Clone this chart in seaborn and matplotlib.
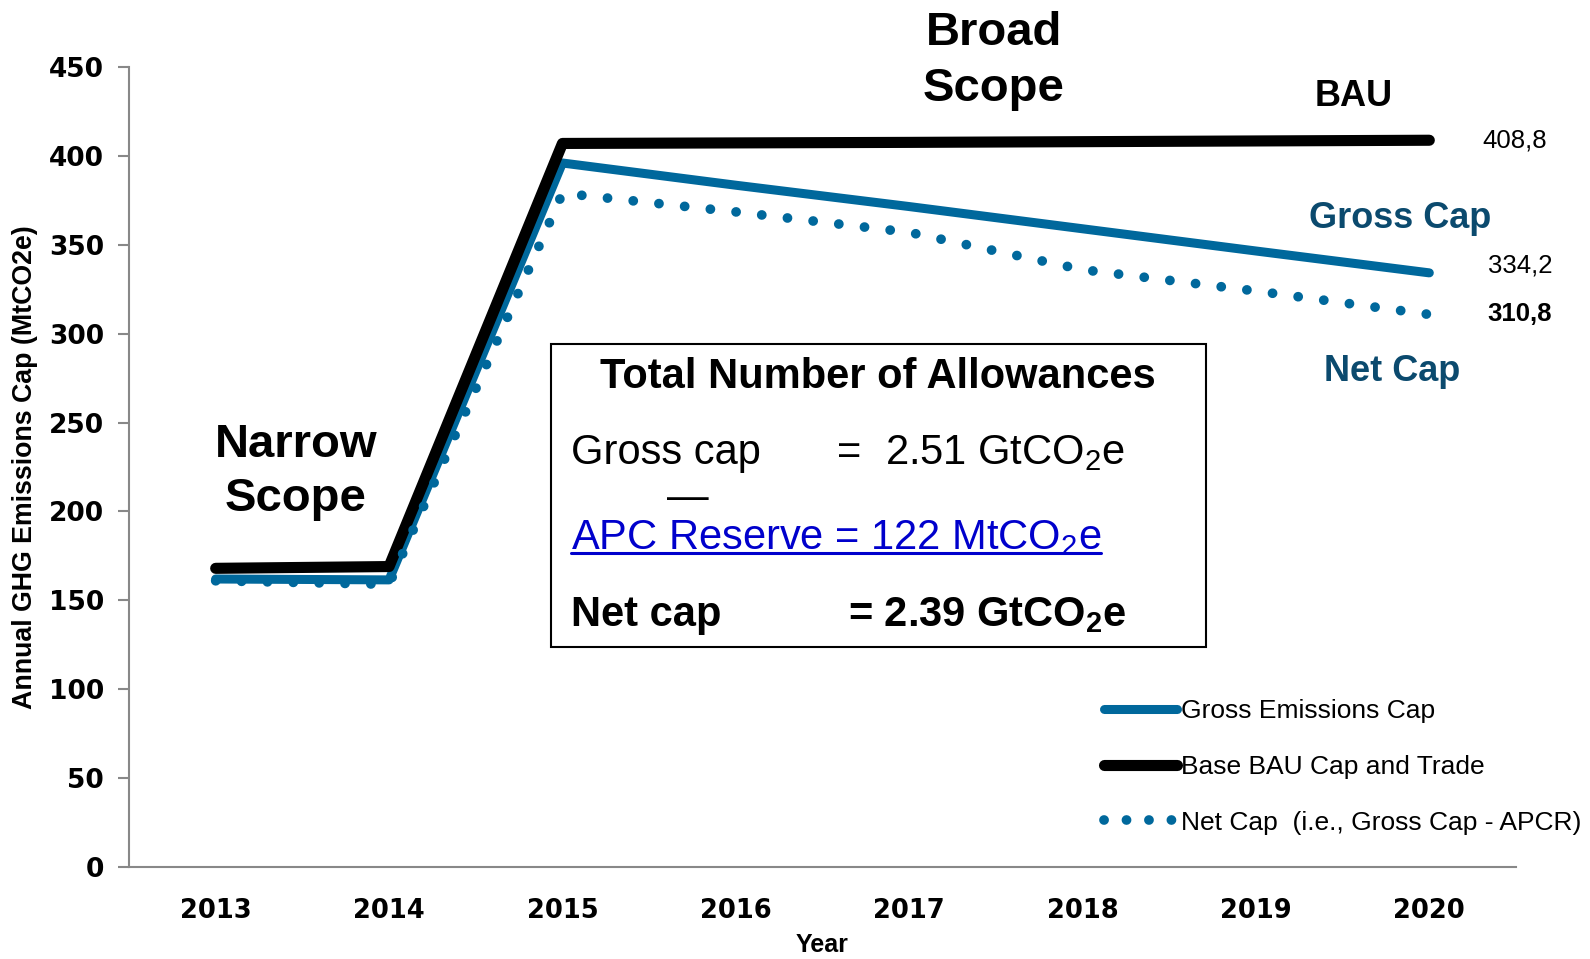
import matplotlib
matplotlib.use("Agg")
import matplotlib.pyplot as plt
import seaborn as sns
import pandas as pd
from matplotlib.patches import Rectangle
from matplotlib.lines import Line2D

# ---------------- data ----------------
years = ['2013', '2014', '2015', '2016', '2017', '2018', '2019', '2020']
bau_cap = [168.0, 169.0, 407.0, 407.3, 407.6, 408.0, 408.4, 408.8]
gross_cap = [162.0, 161.5, 396.0, 383.5, 371.5, 359.0, 346.5, 334.2]
net_cap = [161.0, 159.0, 379.0, 368.5, 357.0, 336.0, 324.0, 310.8]
series_labels = ['Gross Emissions Cap', 'Base BAU Cap and Trade', 'Net Cap  (i.e., Gross Cap - APCR)']
y_ticks = [0, 50, 100, 150, 200, 250, 300, 350, 400, 450]

# ---------------- style ----------------
sns.set_style("white")
plt.rcParams['font.family'] = ['Liberation Sans', 'DejaVu Sans']
plt.rcParams['mathtext.fontset'] = 'custom'
plt.rcParams['mathtext.rm'] = 'Liberation Sans'
plt.rcParams['mathtext.bf'] = 'Liberation Sans:bold'
plt.rcParams['mathtext.it'] = 'Liberation Sans:italic'
for k in ['text.color', 'axes.labelcolor', 'xtick.color', 'ytick.color']:
    plt.rcParams[k] = 'black'

BLUE = '#00689C'
NAVY = '#0B4A6E'
W, H = 1590, 959

df = pd.DataFrame({'Year': years, 'BAU': bau_cap, 'Gross': gross_cap, 'Net': net_cap})

fig = plt.figure(figsize=(W / 100, H / 100), dpi=100)
ax = fig.add_axes([129 / W, 1 - 867 / H, (1516 - 129) / W, (867 - 67) / H])

sns.lineplot(data=df, x='Year', y='Gross', ax=ax, color=BLUE, linewidth=6.5,
             solid_capstyle='round', solid_joinstyle='round', label=series_labels[0], sort=False)
sns.lineplot(data=df, x='Year', y='BAU', ax=ax, color='black', linewidth=8,
             solid_capstyle='round', solid_joinstyle='round', label=series_labels[1], sort=False)
sns.lineplot(data=df, x='Year', y='Net', ax=ax, color=BLUE, linewidth=7,
             linestyle=(0, (0.01, 2.65)), dash_capstyle='round', label=series_labels[2], sort=False)

ax.set_xlim(-0.5, len(years) - 0.5)
ax.set_ylim(0, 450)
ax.set_yticks(y_ticks)
ax.set_yticklabels([str(v) for v in y_ticks], fontfamily='DejaVu Sans', fontweight='bold', fontsize=19)
ax.set_xticks(range(len(years)))
ax.set_xticklabels(years, fontfamily='DejaVu Sans', fontweight='bold', fontsize=18.5)
ax.tick_params(axis='y', length=8, width=1.5, color='#888888', pad=10, direction='out', left=True,
               labelcolor='black')
ax.tick_params(axis='x', length=0, pad=22, labelcolor='black')

for s in ['top', 'right']:
    ax.spines[s].set_visible(False)
for s in ['left', 'bottom']:
    ax.spines[s].set_color('#888888')
    ax.spines[s].set_linewidth(1.5)

ax.set_ylabel('Annual GHG Emissions Cap (MtCO2e)', fontsize=19.3, fontweight='bold', color='black')
ax.yaxis.set_label_coords((38 - 129) / (1516 - 129), 0.5)
ax.set_xlabel('Year', fontsize=18, fontweight='bold', color='black')
ax.xaxis.set_label_coords(0.5, -(933 - 867) / (867 - 67))

# legend (own handles so the dotted key shows four dots like the original)
handles, labels = ax.get_legend_handles_labels()
leg_handles = [
    Line2D([], [], color=BLUE, linewidth=6.5, solid_capstyle='round'),
    Line2D([], [], color='black', linewidth=8, solid_capstyle='round'),
    Line2D([], [], color=BLUE, linewidth=7, linestyle=(0, (0.01, 2.3)), dash_capstyle='round'),
]
leg = ax.legend(leg_handles, labels, loc='center left', bbox_to_anchor=(1104 / W, 1 - 767 / H),
                bbox_transform=fig.transFigure, frameon=False, fontsize=19,
                handlelength=2.75, handletextpad=0.15, labelspacing=1.2, borderpad=0,
                borderaxespad=0)
for t in leg.get_texts():
    t.set_color('black')

# value labels at 2020
last = len(years) - 1
ax.annotate(f"{bau_cap[-1]:.1f}".replace('.', ','), xy=(last, bau_cap[-1]), xytext=(53, 0),
            textcoords='offset pixels', ha='left', va='center', fontsize=18.5)
ax.annotate(f"{gross_cap[-1]:.1f}".replace('.', ','), xy=(last, gross_cap[-1]), xytext=(59, 7),
            textcoords='offset pixels', ha='left', va='center', fontsize=18.5)
ax.annotate(f"{net_cap[-1]:.1f}".replace('.', ','), xy=(last, net_cap[-1]), xytext=(58, 0),
            textcoords='offset pixels', ha='left', va='center', fontsize=18.5, fontweight='bold')

def fx(px):
    return px / W

def fy(py):
    return 1 - py / H

# scope / series annotations
fig.text(fx(296), fy(472), 'Narrow\nScope', ha='center', va='center', fontsize=34,
         fontweight='bold', linespacing=1.3)
fig.text(fx(994), fy(61), 'Broad\nScope', ha='center', va='center', fontsize=34,
         fontweight='bold', linespacing=1.38)
fig.text(fx(1354), fy(97), 'BAU', ha='center', va='center', fontsize=26, fontweight='bold')
fig.text(fx(1400), fy(218), 'Gross Cap', ha='center', va='center', fontsize=26,
         fontweight='bold', color=NAVY)
fig.text(fx(1392), fy(371), 'Net Cap', ha='center', va='center', fontsize=26,
         fontweight='bold', color=NAVY)

# allowances box
fig.patches.append(Rectangle((fx(551), fy(647)), (1206 - 551) / W, (647 - 344) / H,
                             transform=fig.transFigure, fill=True, facecolor='white',
                             edgecolor='black', linewidth=1.5, zorder=5))
fs = 30
fig.text(fx(878), fy(377), 'Total Number of Allowances', ha='center', va='center',
         fontsize=fs, fontweight='bold', zorder=6)
fig.text(fx(571), fy(464), 'Gross cap', ha='left', va='baseline', fontsize=fs, zorder=6)
fig.text(fx(837), fy(464), '=', ha='left', va='baseline', fontsize=fs, zorder=6)
fig.text(fx(885), fy(464), r'2.51 GtCO$_2$e', ha='left', va='baseline', fontsize=fs, zorder=6)
fig.text(fx(688), fy(509), '\u2014', ha='center', va='baseline', fontsize=fs, zorder=6)
apc = fig.text(fx(571), fy(549), r'APC Reserve = 122 MtCO$_2$e', ha='left', va='baseline',
               fontsize=fs, color='#0000CC', zorder=6)
fig.text(fx(571), fy(626), 'Net cap', ha='left', va='baseline', fontsize=fs,
         fontweight='bold', zorder=6)
fig.text(fx(848), fy(626), r'= 2.39 GtCO$_\mathbf{2}$e', ha='left', va='baseline', fontsize=fs,
         fontweight='bold', zorder=6)

# underline for the APC line
fig.canvas.draw()
bb = apc.get_window_extent().transformed(fig.transFigure.inverted())
uy = fy(553)
fig.lines.append(Line2D([bb.x0, bb.x1], [uy, uy], transform=fig.transFigure,
                        color='#0000CC', linewidth=2.2, zorder=6))

fig.savefig('out.png', dpi=100)
